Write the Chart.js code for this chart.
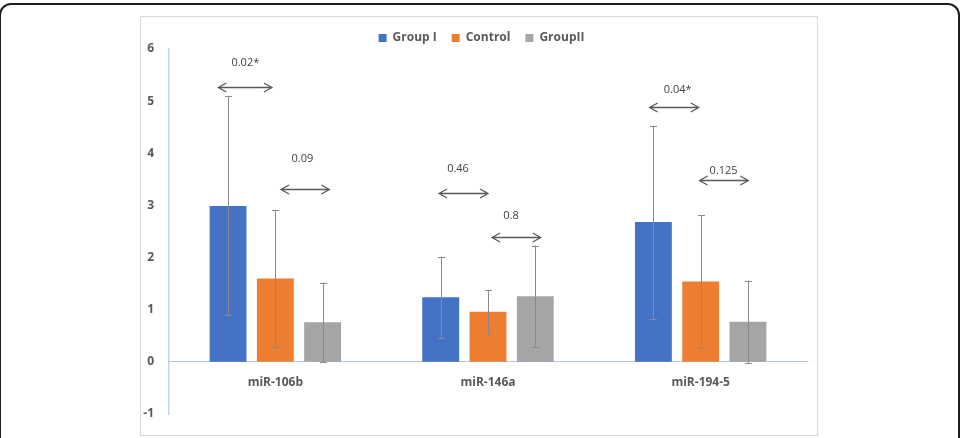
<!DOCTYPE html>
<html>
<head>
<meta charset="utf-8">
<script src="https://cdn.jsdelivr.net/npm/chart.js@4.4.1/dist/chart.umd.min.js"></script>
<style>
  html, body { margin: 0; padding: 0; background: #ffffff; }
  #wrap { position: relative; width: 961px; height: 438px; overflow: hidden; }
  #outer { position: absolute; left: -1px; top: 3px; width: 961px; height: 460px; box-sizing: border-box;
           border: 2px solid #1e1e1e; border-radius: 12px; }
  #inner { position: absolute; left: 140px; top: 16px; width: 678px; height: 420px; box-sizing: border-box;
           border: 1px solid #d9d9d9; }
  #c { position: absolute; left: 0; top: 0; }
</style>
</head>
<body>
<div id="wrap">
  <div id="outer"></div>
  <div id="inner"></div>
  <canvas id="c" width="961" height="438"></canvas>
</div>
<script>
// ---- data ----
const categories = ['miR-106b', 'miR-146a', 'miR-194-5'];
const seriesNames = ['Group I', 'Control', 'GroupII'];
const groupI   = [2.99, 1.24, 2.68];
const control  = [1.60, 0.96, 1.54];
const groupII  = [0.76, 1.26, 0.77];
const groupIErr  = [2.10, 0.78, 1.85];
const controlErr = [1.31, 0.42, 1.28];
const groupIIErr = [0.76, 0.97, 0.79];
const yTicks = [-1, 0, 1, 2, 3, 4, 5, 6];
// p-value annotations: category index, arrow from/to offsets (category units), arrow y, label y, label x offset
const pLabels   = ['0.02*', '0.09', '0.46', '0.8', '0.04*', '0.125'];
const pCategory = [0, 0, 1, 1, 2, 2];
const pFrom     = [-0.268, 0.027, -0.230, 0.019, -0.240, -0.005];
const pTo       = [-0.016, 0.254, 0.000, 0.248, -0.009, 0.224];
const pArrowY   = [5.27, 3.32, 3.24, 2.39, 4.88, 3.48];
const pLabelY   = [5.73, 3.89, 3.70, 2.80, 5.21, 3.67];
const pLabelX   = [-0.141, 0.127, -0.141, 0.108, -0.108, 0.108];

const colors = ['#4472C4', '#ED7D31', '#A5A5A5'];
const values = [groupI, control, groupII];
const errors = [groupIErr, controlErr, groupIIErr];

const errorBars = {
  id: 'errorBars',
  afterDatasetsDraw(chart) {
    const ctx = chart.ctx, ys = chart.scales.y;
    ctx.save();
    ctx.strokeStyle = '#8a8a8a';
    ctx.lineWidth = 1;
    values.forEach((vals, i) => {
      const meta = chart.getDatasetMeta(i);
      meta.data.forEach((bar, j) => {
        const x = Math.round(bar.x) + 0.5;
        const t = ys.getPixelForValue(vals[j] + errors[i][j]);
        const b = ys.getPixelForValue(vals[j] - errors[i][j]);
        ctx.beginPath();
        ctx.moveTo(x, t); ctx.lineTo(x, b);
        ctx.moveTo(x - 3.5, Math.round(t) + 0.5); ctx.lineTo(x + 3.5, Math.round(t) + 0.5);
        ctx.moveTo(x - 3.5, Math.round(b) + 0.5); ctx.lineTo(x + 3.5, Math.round(b) + 0.5);
        ctx.stroke();
      });
    });
    ctx.restore();
  }
};

const pAnnotations = {
  id: 'pAnnotations',
  afterDraw(chart) {
    const ctx = chart.ctx, xs = chart.scales.x, ys = chart.scales.y;
    const catW = xs.getPixelForValue(1) - xs.getPixelForValue(0);
    ctx.save();
    ctx.strokeStyle = '#5a5a5a';
    ctx.lineWidth = 1.3;
    ctx.fillStyle = '#404040';
    ctx.font = '11px "Open Sans"';
    ctx.textAlign = 'center';
    ctx.textBaseline = 'middle';
    pLabels.forEach((lab, k) => {
      const c = xs.getPixelForValue(pCategory[k]);
      const x1 = c + pFrom[k] * catW, x2 = c + pTo[k] * catW;
      const y = Math.round(ys.getPixelForValue(pArrowY[k])) + 0.5;
      ctx.beginPath();
      ctx.moveTo(x1, y); ctx.lineTo(x2, y);
      ctx.moveTo(x1 + 8, y - 4.5); ctx.lineTo(x1, y); ctx.lineTo(x1 + 8, y + 4.5);
      ctx.moveTo(x2 - 8, y - 4.5); ctx.lineTo(x2, y); ctx.lineTo(x2 - 8, y + 4.5);
      ctx.stroke();
      ctx.fillText(lab, c + pLabelX[k] * catW, ys.getPixelForValue(pLabelY[k]));
    });
    ctx.restore();
  }
};

const legendFix = {
  id: 'legendFix',
  afterInit(chart) {
    const lg = chart.legend;
    if (!lg) return;
    const f = lg.fit;
    lg.fit = function () { f.call(this); this.height -= 5; };
    const d = lg.draw;
    lg.draw = function () {
      const ctx = this.ctx;
      ctx.save(); ctx.translate(8, 0); d.call(this); ctx.restore();
    };
  }
};

new Chart(document.getElementById('c'), {
  type: 'bar',
  data: {
    labels: categories,
    datasets: seriesNames.map((n, i) => ({
      label: n,
      data: values[i],
      backgroundColor: colors[i],
      borderWidth: 0,
      categoryPercentage: 0.667,
      barPercentage: 0.78
    }))
  },
  options: {
    responsive: false,
    animation: false,
    layout: { padding: { left: 140, right: 154, top: 17, bottom: 24 } },
    plugins: {
      tooltip: { enabled: false },
      legend: {
        position: 'top',
        labels: {
          boxWidth: 8, boxHeight: 8, padding: 15,
          color: '#595959',
          font: { family: '"Open Sans"', size: 12, weight: 'bold' }
        }
      }
    },
    scales: {
      x: {
        position: { y: 0 },
        grid: { display: false, drawTicks: false },
        border: { display: true, color: '#b4c7e7', width: 1 },
        ticks: { color: '#595959', padding: 14, font: { family: '"Open Sans"', size: 12, weight: 'bold' } }
      },
      y: {
        min: -1, max: 6,
        afterFit(scale) { scale.width = 29; },
        afterBuildTicks(scale) { scale.ticks = yTicks.map(v => ({ value: v })); },
        grid: { display: false, drawTicks: false },
        border: { display: true, color: '#c3d3ee', width: 1.5 },
        ticks: { color: '#595959', padding: 15, font: { family: '"Open Sans"', size: 12, weight: 'bold' } }
      }
    }
  },
  plugins: [errorBars, pAnnotations, legendFix]
});
</script>
</body>
</html>
